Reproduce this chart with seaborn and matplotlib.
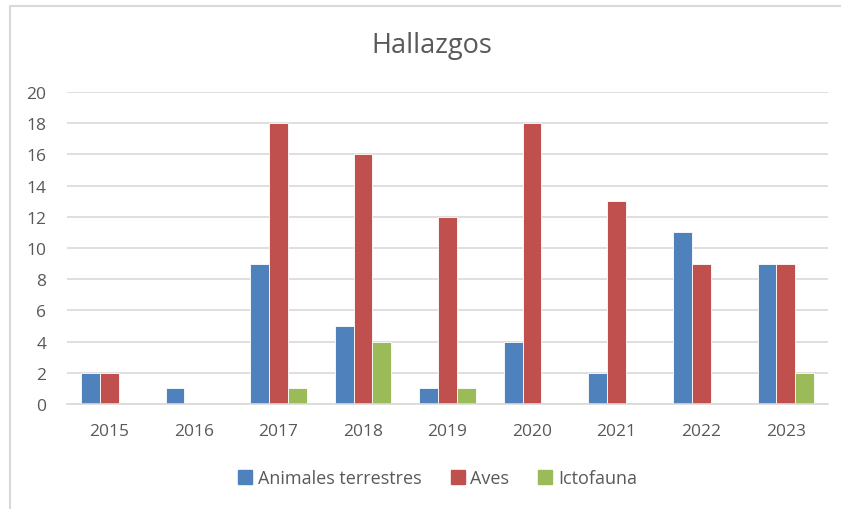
import pandas as pd
import matplotlib
matplotlib.use('Agg')
import matplotlib.pyplot as plt
import seaborn as sns
from matplotlib.lines import Line2D

# Datos
anios = ['2015', '2016', '2017', '2018', '2019', '2020', '2021', '2022', '2023']
animales = [2, 1, 9, 5, 1, 4, 2, 11, 9]
aves = [2, 0, 18, 16, 12, 18, 13, 9, 9]
ictofauna = [0, 0, 1, 4, 1, 0, 0, 0, 2]
series = ['Animales terrestres', 'Aves', 'Ictofauna']
colores = ['#4F81BD', '#C0504D', '#9BBB59']

df = pd.DataFrame({'Año': anios, series[0]: animales, series[1]: aves, series[2]: ictofauna})
df = df.melt(id_vars='Año', var_name='Grupo', value_name='Hallazgos')

sns.set_style('white')
plt.rcParams['font.family'] = ['Open Sans', 'DejaVu Sans']

fig = plt.figure(figsize=(8.41, 5.10), dpi=100)
ax = fig.add_axes([67 / 841, 105 / 510, (828 - 67) / 841, (405 - 93) / 510])

sns.barplot(data=df, x='Año', y='Hallazgos', hue='Grupo', palette=colores, saturation=1,
            width=3 / 4.5, edgecolor='white', linewidth=0.6, ax=ax, legend=False)

ax.set_ylim(0, 20)
ax.set_xlim(-0.5, len(anios) - 0.5)
ax.set_yticks(range(0, 21, 2))
ax.yaxis.grid(True, color='#D9D9D9', linewidth=1.2)
ax.set_axisbelow(True)
for s in ['top', 'right', 'left']:
    ax.spines[s].set_visible(False)
ax.spines['bottom'].set_color('#D9D9D9')
ax.spines['bottom'].set_linewidth(1.2)
ax.tick_params(axis='both', length=0, labelsize=12.5, labelcolor='#595959')
ax.tick_params(axis='y', pad=15)
ax.tick_params(axis='x', pad=14)
ax.set_xlabel('')
ax.set_ylabel('')

fig.text(0.513, 1 - 46 / 510, 'Hallazgos', ha='center', va='center', fontsize=19.5, color='#595959')

handles = [Line2D([], [], marker='s', linestyle='', markersize=10, color=c) for c in colores]
fig.legend(handles, series, loc='center', bbox_to_anchor=(0.518, 1 - 479 / 510), ncol=3,
           frameon=False, fontsize=13, labelcolor='#595959', handletextpad=0.1,
           handlelength=1.2, columnspacing=1.4)

# marco del gráfico
fig.add_artist(Line2D([10 / 841, 10 / 841], [0, 1 - 7 / 510], color='#D9D9D9', linewidth=1.5))
fig.add_artist(Line2D([10 / 841, 1], [1 - 7 / 510, 1 - 7 / 510], color='#D9D9D9', linewidth=1.5))

fig.savefig('out.png', dpi=100)
